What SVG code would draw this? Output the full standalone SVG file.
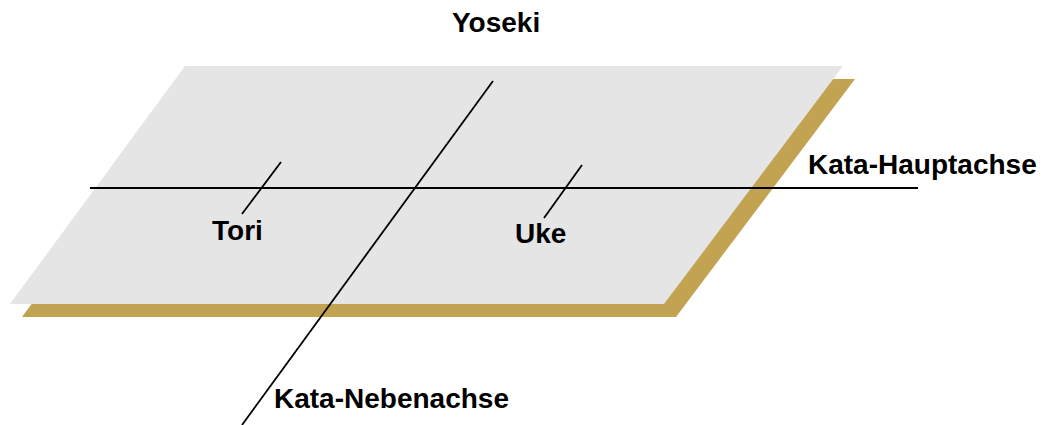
<svg xmlns="http://www.w3.org/2000/svg" width="1042" height="425" viewBox="0 0 1042 425">
<style>
.lbl{font-family:"Liberation Sans",Arial,sans-serif;font-weight:bold;font-size:28px;fill:#000}
.ln{stroke:#000;stroke-width:1.8;fill:none}
</style>
<rect width="1042" height="425" fill="#fff"/>
<g id="plate">
<polygon points="197,79 855,79 676,317 22,317" fill="#C2A352"/>
<polygon points="185,66 843,66 664,304 10,304" fill="#E5E5E5"/>
</g>
<g id="connectors">
<line class="ln" x1="90" y1="188" x2="918" y2="188"/>
<line class="ln" x1="493" y1="81" x2="242" y2="425"/>
<line class="ln" x1="281" y1="162" x2="242" y2="214"/>
<line class="ln" x1="582" y1="165" x2="544" y2="218"/>
</g>
<g id="yoseki"><text class="lbl" x="452" y="32">Yoseki</text></g>
<g id="hauptachse"><text class="lbl" x="808" y="174">Kata-Hauptachse</text></g>
<g id="tori"><text class="lbl" x="212" y="240">Tori</text></g>
<g id="uke"><text class="lbl" x="515" y="243">Uke</text></g>
<g id="nebenachse"><text class="lbl" x="274" y="408">Kata-Nebenachse</text></g>
</svg>
